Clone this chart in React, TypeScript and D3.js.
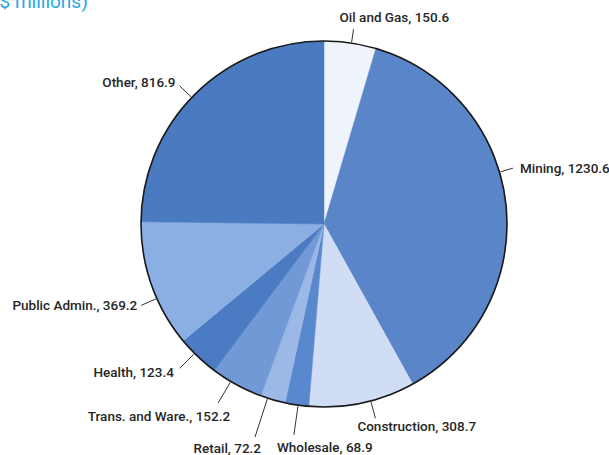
import React from "react";
import * as d3 from "d3";

const categories = ["Oil and Gas", "Mining", "Construction", "Wholesale", "Retail", "Trans. and Ware.", "Health", "Public Admin.", "Other"];
const values = [150.6, 1230.6, 308.7, 68.9, 72.2, 152.2, 123.4, 369.2, 816.9];
const colors = ["#eef3fc", "#5a86c9", "#d0ddf5", "#5a88cf", "#9cb8e6", "#7199d6", "#4a7bc3", "#8cafe3", "#4a7bc1"];
const title = "($ millions)";

// label layout: angle adjustment (deg), tick length, anchor, dx, dy (relative to tick end)
const labelLayout: [number, number, string, number, number][] = [
  [0.4, 13, "start", -14, -7],
  [-10.2, 13, "start", 7, 4.5],
  [-2.7, 17, "start", -18, 13],
  [-0.4, 29, "start", -17, 17.6],
  [1.7, 40, "end", 6, 16],
  [2.1, 24, "end", 12, 17.5],
  [1.4, 20, "end", -6, 9],
  [-4.5, 16, "end", -4, 5],
  [-1.6, 16, "end", -4, 1],
];

const W = 609, H = 455;
const cx = 324, cy = 224, R = 183;

export default function App() {
  const pie = d3.pie<number>().sort(null).value((d) => d);
  const arcs = pie(values);
  const arc = d3.arc<d3.PieArcDatum<number>>().innerRadius(0).outerRadius(R);
  const pt = (theta: number, r: number): [number, number] => [Math.sin(theta) * r, -Math.cos(theta) * r];

  return (
    <svg width={W} height={H} style={{ position: "absolute", left: 0, top: 0, background: "#fff" }}>
      <text x={-7} y={8} fill="#29a8e0" fontFamily="Roboto, sans-serif" fontSize={19}>{title}</text>
      <g transform={`translate(${cx},${cy})`}>
        {arcs.map((a, i) => (
          <path key={i} d={arc(a) || ""} fill={colors[i]} stroke={colors[i]} strokeWidth={0.5} />
        ))}
        <circle r={R} fill="none" stroke="#1a1a1a" strokeWidth={1.6} />
        {arcs.map((a, i) => {
          const [da, len, anchor, dx, dy] = labelLayout[i];
          const theta = (a.startAngle + a.endAngle) / 2 + (da * Math.PI) / 180;
          const [x1, y1] = pt(theta, R + 1);
          const [x2, y2] = pt(theta, R + 1 + len);
          return (
            <g key={i}>
              <line x1={x1} y1={y1} x2={x2} y2={y2} stroke="#333" strokeWidth={1} />
              <text x={x2 + dx} y={y2 + dy} textAnchor={anchor as any} fontFamily="Roboto, sans-serif" fontWeight={500} fontSize={13.5} fill="#262626">
                {`${categories[i]}, ${values[i].toFixed(1)}`}
              </text>
            </g>
          );
        })}
      </g>
    </svg>
  );
}
